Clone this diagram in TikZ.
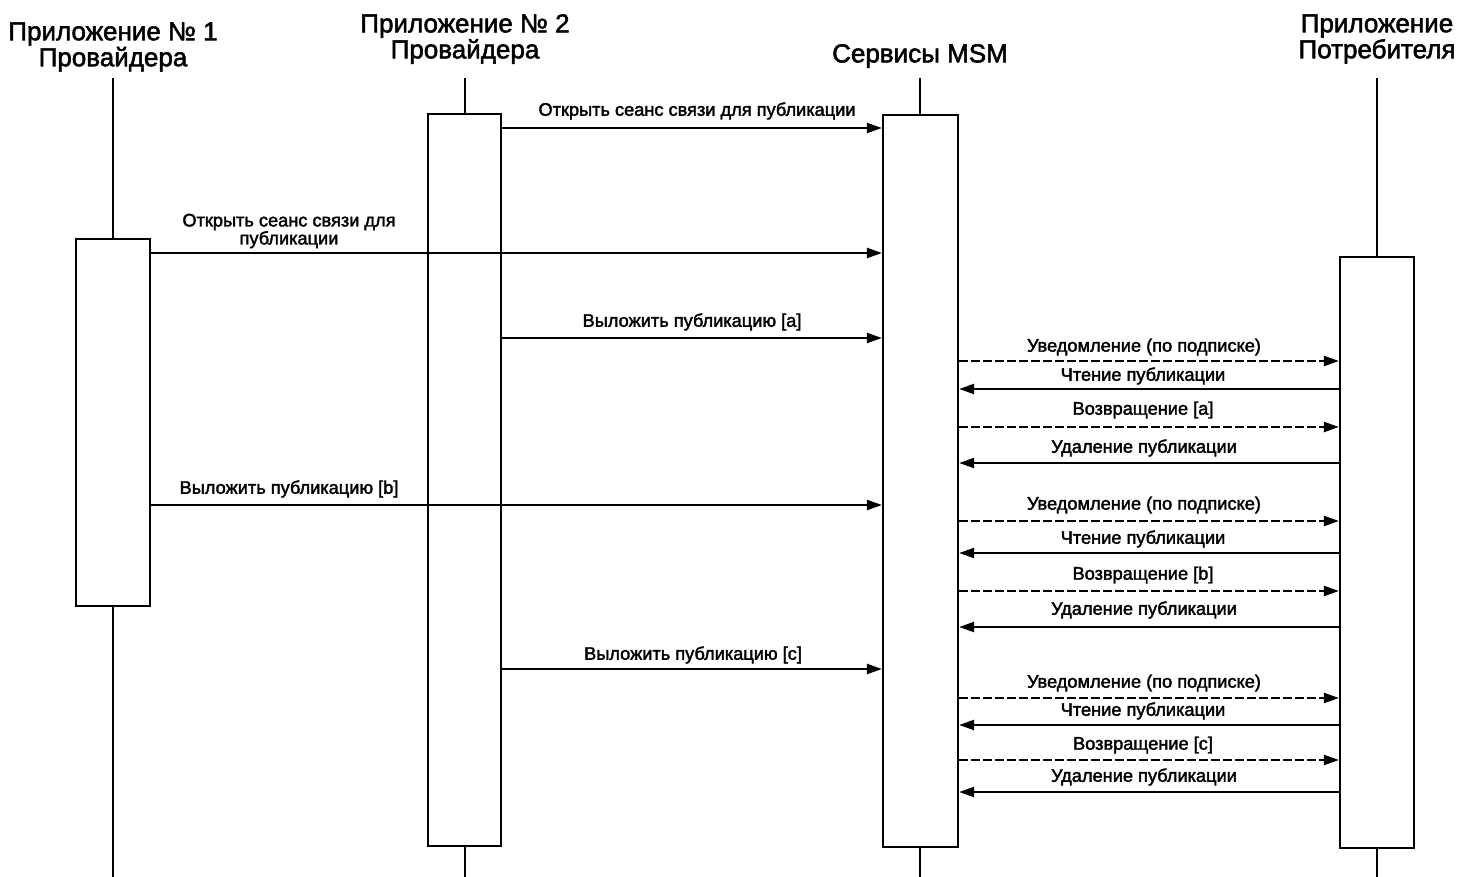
\documentclass[tikz,border=0pt]{standalone}
\usepackage{fontspec}
\setmainfont{Liberation Sans}
\newfontfamily\heavyfont{Liberation Sans}[FakeBold=2]
\usetikzlibrary{arrows.meta}
\begin{document}
\begin{tikzpicture}[x=1pt,y=-1pt,
  line width=2.2pt,
  title/.style={font=\heavyfont\fontsize{26}{26}\selectfont, align=center, inner sep=0pt},
  lbl/.style={font=\heavyfont\fontsize{18.2}{18}\selectfont, align=center, inner sep=0pt},
  act/.style={draw, fill=white, minimum width=#1, inner sep=0pt},
  life/.style={line width=2.2pt},
  msg/.style={-{Triangle[length=15pt,width=10pt]}},
  ret/.style={msg, dashed, dash pattern=on 9pt off 3pt}]
\useasboundingbox (0,0) rectangle (1460,877);

% participant headings
\node[title] (h1) at (113,47) {Приложение № 1\\Провайдера};
\node[title] (h2) at (465,39) {Приложение № 2\\Провайдера};
\node[title] (h3) at (920,56) {Сервисы MSM};
\node[title] (h4) at (1377,39) {Приложение\\Потребителя};

% lifelines
\coordinate (t1) at (113,78); \coordinate (e1) at (113,877);
\coordinate (t2) at (465,78); \coordinate (e2) at (465,877);
\coordinate (t3) at (920,78); \coordinate (e3) at (920,877);
\coordinate (t4) at (1377,78); \coordinate (e4) at (1377,877);
\draw[life] (t1) -- (e1);
\draw[life] (t2) -- (e2);
\draw[life] (t3) -- (e3);
\draw[life] (t4) -- (e4);

% activation bars
\node[act=74pt, minimum height=367pt] (b1) at (113,422.5) {};
\node[act=73pt, minimum height=732pt] (b2) at (464.5,480) {};
\node[act=75pt, minimum height=732pt] (b3) at (920.5,481) {};
\node[act=74pt, minimum height=591pt] (b4) at (1377,552.5) {};

% provider messages
\draw[msg] (b2.east |- 0,128) -- (b3.west |- 0,128);
\node[lbl] (m1) at (697,111) {Открыть сеанс связи для публикации};
\draw[msg] (b1.east |- 0,253) -- (b3.west |- 0,253);
\node[lbl] (m2) at (289,231) {Открыть сеанс связи для\\публикации};
\draw[msg] (b2.east |- 0,338) -- (b3.west |- 0,338);
\node[lbl] (m3) at (692,322) {Выложить публикацию [a]};
\draw[msg] (b1.east |- 0,505) -- (b3.west |- 0,505);
\node[lbl] (m8) at (289,489) {Выложить публикацию [b]};
\draw[msg] (b2.east |- 0,669) -- (b3.west |- 0,669);
\node[lbl] (m13) at (693,655) {Выложить публикацию [c]};

% consumer exchanges
\draw[ret] (b3.east |- 0,361) -- (b4.west |- 0,361);
\node[lbl] (m4) at (1144,347) {Уведомление (по подписке)};
\draw[msg] (b4.west |- 0,389) -- (b3.east |- 0,389);
\node[lbl] (m5) at (1143,376) {Чтение публикации};
\draw[ret] (b3.east |- 0,427) -- (b4.west |- 0,427);
\node[lbl] (m6) at (1143,410) {Возвращение [a]};
\draw[msg] (b4.west |- 0,463) -- (b3.east |- 0,463);
\node[lbl] (m7) at (1144,448) {Удаление публикации};

\draw[ret] (b3.east |- 0,521) -- (b4.west |- 0,521);
\node[lbl] (m9) at (1144,505) {Уведомление (по подписке)};
\draw[msg] (b4.west |- 0,553) -- (b3.east |- 0,553);
\node[lbl] (m10) at (1143,539) {Чтение публикации};
\draw[ret] (b3.east |- 0,591) -- (b4.west |- 0,591);
\node[lbl] (m11) at (1143,575) {Возвращение [b]};
\draw[msg] (b4.west |- 0,627) -- (b3.east |- 0,627);
\node[lbl] (m12) at (1144,610) {Удаление публикации};

\draw[ret] (b3.east |- 0,698) -- (b4.west |- 0,698);
\node[lbl] (m14) at (1144,683) {Уведомление (по подписке)};
\draw[msg] (b4.west |- 0,725) -- (b3.east |- 0,725);
\node[lbl] (m15) at (1143,711) {Чтение публикации};
\draw[ret] (b3.east |- 0,760) -- (b4.west |- 0,760);
\node[lbl] (m16) at (1143,745) {Возвращение [c]};
\draw[msg] (b4.west |- 0,792) -- (b3.east |- 0,792);
\node[lbl] (m17) at (1144,777) {Удаление публикации};
\end{tikzpicture}
\end{document}
